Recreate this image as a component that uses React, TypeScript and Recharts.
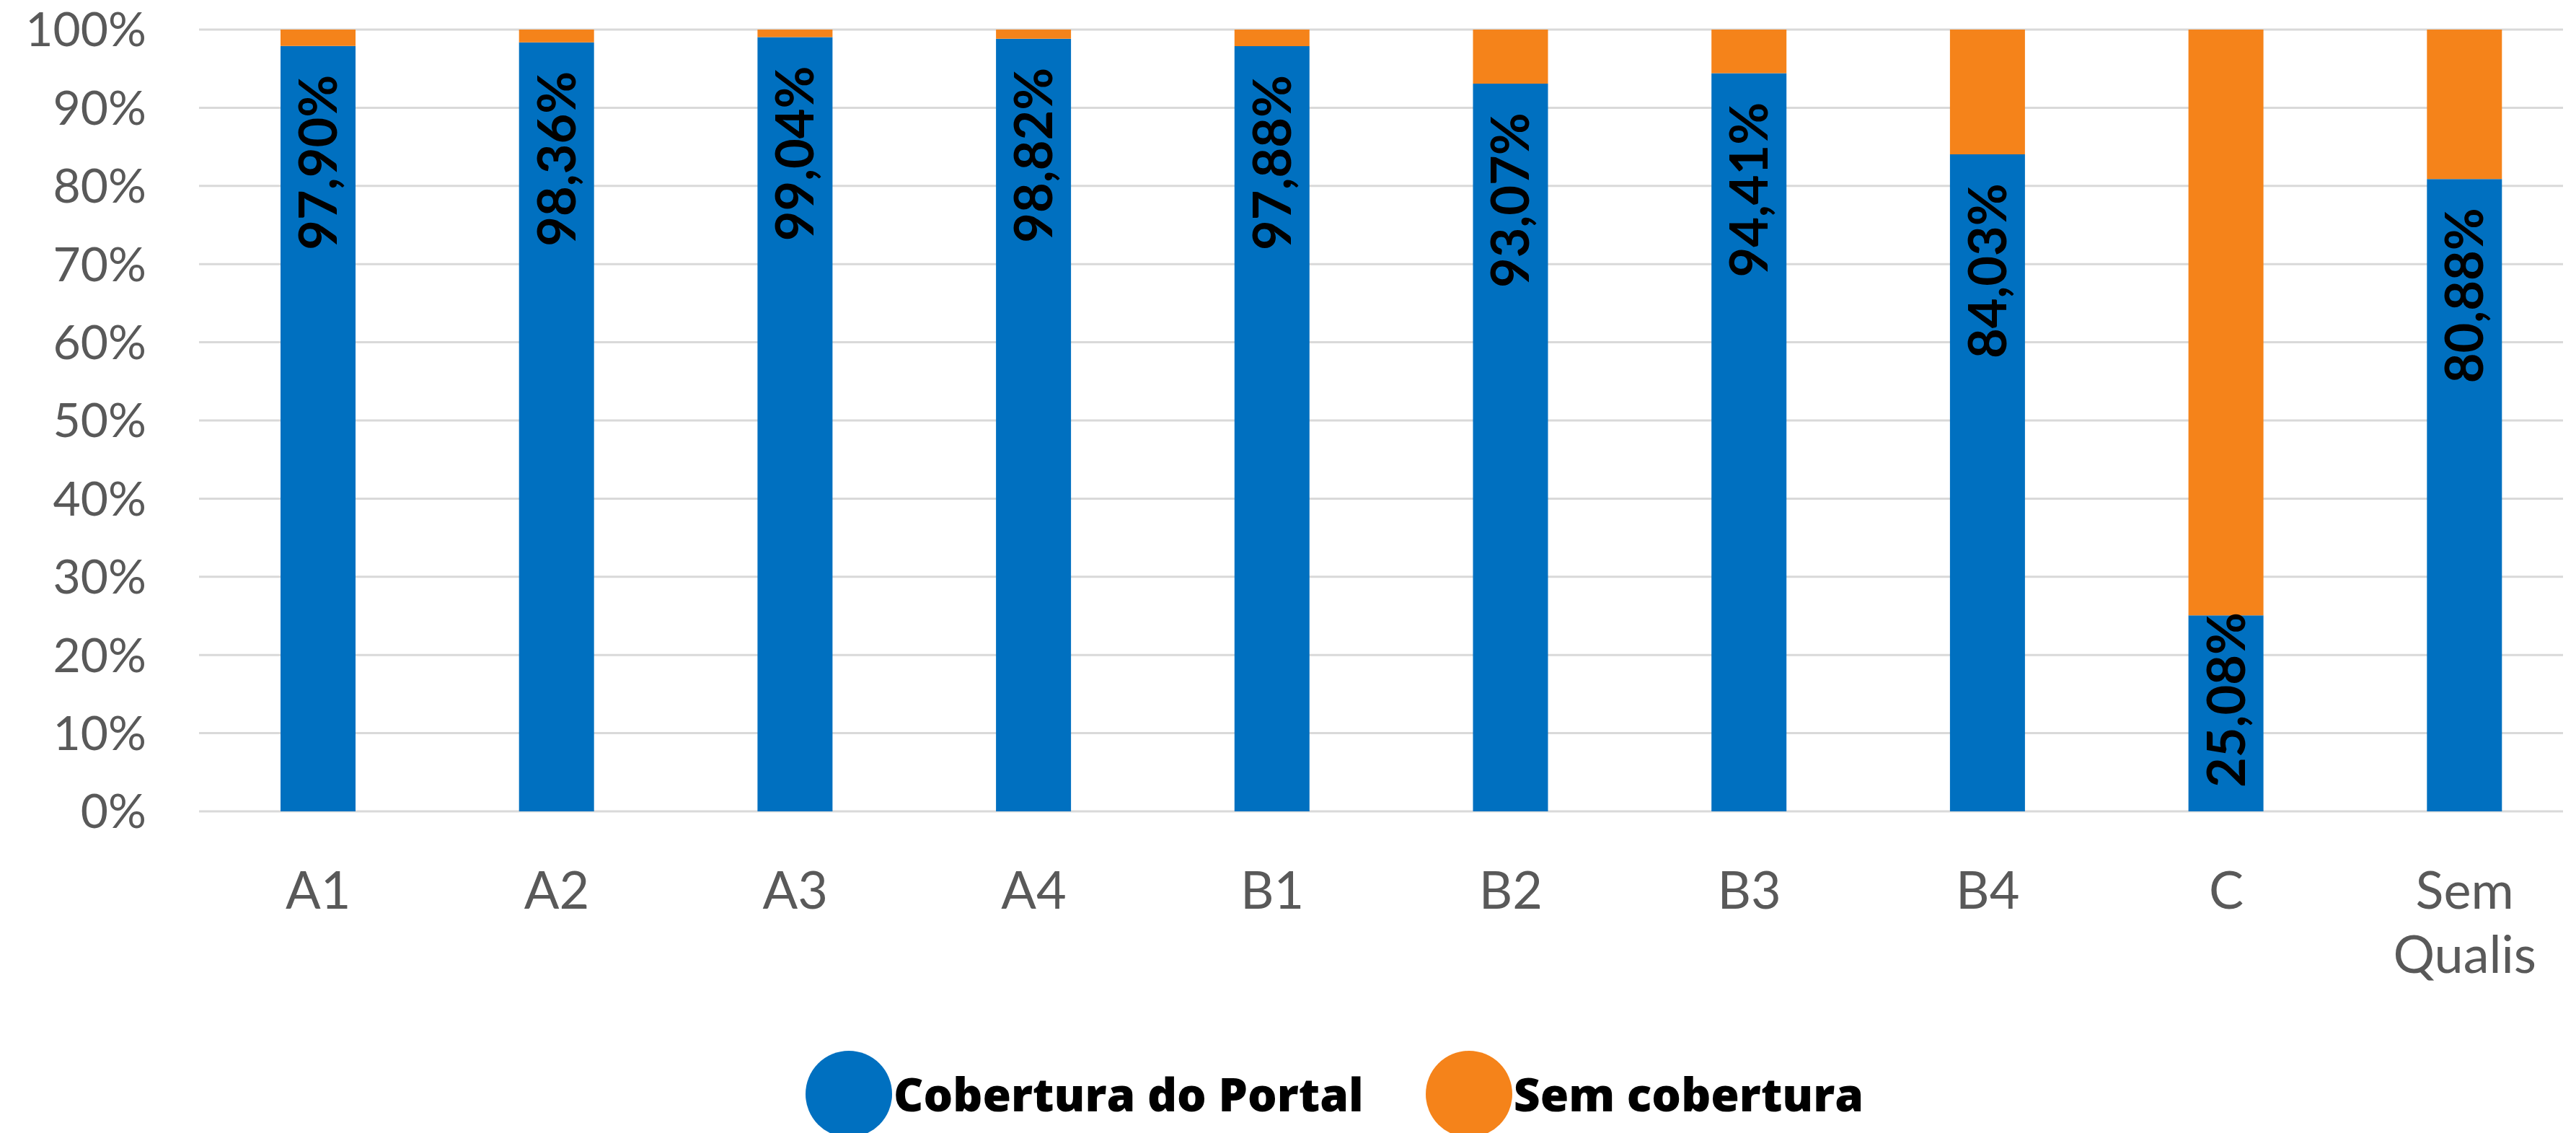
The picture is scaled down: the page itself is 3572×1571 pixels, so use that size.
import { BarChart, Bar, XAxis, YAxis, CartesianGrid, LabelList } from "recharts";

const categories = ["A1", "A2", "A3", "A4", "B1", "B2", "B3", "B4", "C", "Sem Qualis"];
const cobertura = [97.9, 98.36, 99.04, 98.82, 97.88, 93.07, 94.41, 84.03, 25.08, 80.88];
const semCobertura = [2.1, 1.64, 0.96, 1.18, 2.12, 6.93, 5.59, 15.97, 74.92, 19.12];
const yTicks = [0, 10, 20, 30, 40, 50, 60, 70, 80, 90, 100];

const BLUE = "#0070C0";
const ORANGE = "#F5831A";

const data = categories.map((name, i) => ({
  name,
  cobertura: cobertura[i],
  sem: semCobertura[i],
}));

const fmt = (v: number) => v.toFixed(2).replace(".", ",") + "%";

// rotated label sitting near the top of the blue segment
const BarLabel = (props: any) => {
  const { x, y, width, height, value } = props;
  const cx = x + width / 2;
  const ay = Math.min(y + 40, y + height - 32 - 244);
  return (
    <text
      x={cx}
      y={ay}
      dy="0.36em"
      transform={`rotate(-90, ${cx}, ${ay})`}
      textAnchor="end"
      fill="#000"
      fontFamily="Lato"
      fontWeight={700}
      fontSize={72}
    >
      {fmt(value)}
    </text>
  );
};

const XTick = (props: any) => {
  const { x, y, payload } = props;
  const lines = String(payload.value).split(" ");
  return (
    <text x={x} y={y + 133} textAnchor="middle" fill="#595959" fontFamily="Lato" fontSize={72}>
      {lines.map((l, i) => (
        <tspan key={i} x={x} dy={i === 0 ? 0 : 89}>
          {l}
        </tspan>
      ))}
    </text>
  );
};

const LegendItem = ({ color, label }: { color: string; label: string }) => (
  <div style={{ display: "flex", alignItems: "center" }}>
    <div style={{ width: 120, height: 120, borderRadius: "50%", background: color }} />
    <span
      style={{
        marginLeft: 2,
        fontFamily: "'Open Sans'",
        fontWeight: 800,
        fontSize: 64,
        color: "#000",
        lineHeight: 1,
      }}
    >
      {label}
    </span>
  </div>
);

export default function App() {
  return (
    <div style={{ position: "absolute", left: 0, top: 0, width: 3572, height: 1571, background: "#fff", overflow: "hidden" }}>
      <BarChart
        width={3572}
        height={1571}
        data={data}
        margin={{ top: 41, right: 18, left: 0, bottom: 246 }}
        barSize={104}
      >
        <CartesianGrid vertical={false} stroke="#D9D9D9" strokeWidth={3} />
        <XAxis
          dataKey="name"
          axisLine={false}
          tickLine={false}
          tickSize={0}
          height={200}
          interval={0}
          padding={{ left: 0, right: -29 }}
          tick={<XTick />}
        />
        <YAxis
          width={276}
          domain={[0, 100]}
          ticks={yTicks}
          axisLine={false}
          tickLine={false}
          tickSize={0}
          tickMargin={73}
          tickFormatter={(v: number) => `${v}%`}
          tick={{ fill: "#595959", fontFamily: "Lato", fontSize: 66 }}
        />
        <Bar dataKey="cobertura" stackId="a" fill={BLUE} isAnimationActive={false}>
          <LabelList dataKey="cobertura" content={<BarLabel />} />
        </Bar>
        <Bar dataKey="sem" stackId="a" fill={ORANGE} isAnimationActive={false} />
      </BarChart>
      <div style={{ position: "absolute", left: 1117, top: 1457, display: "flex", alignItems: "center" }}>
        <LegendItem color={BLUE} label="Cobertura do Portal" />
        <div style={{ width: 86 }} />
        <LegendItem color={ORANGE} label="Sem cobertura" />
      </div>
    </div>
  );
}
